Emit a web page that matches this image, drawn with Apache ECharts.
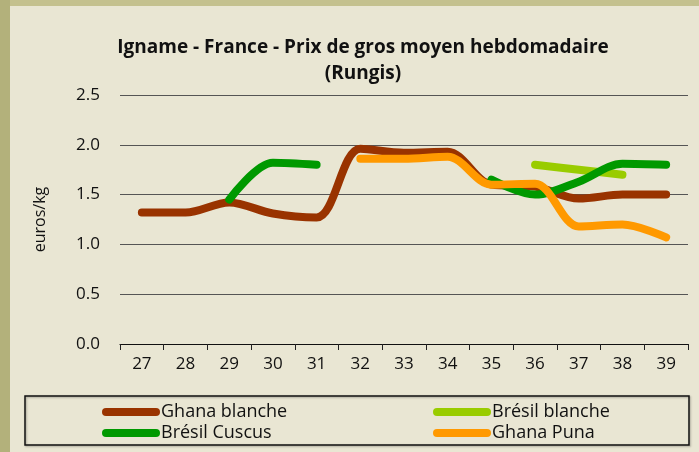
<!DOCTYPE html>
<html>
<head>
<meta charset="utf-8">
<script src="https://cdn.jsdelivr.net/npm/echarts@6/dist/echarts.min.js"></script>
<style>
  html, body { margin: 0; padding: 0; }
  #chart { width: 699px; height: 452px; }
</style>
</head>
<body>
<div id="chart"></div>
<script>
// Data
const weeks = ['27', '28', '29', '30', '31', '32', '33', '34', '35', '36', '37', '38', '39'];
const ghanaBlanche = [1.32, 1.32, 1.42, 1.31, 1.27, 1.96, 1.92, 1.93, 1.60, 1.58, 1.46, 1.50, 1.50];
const bresilBlanche = [null, null, null, null, null, null, null, null, null, 1.80, 1.75, 1.70, null];
const bresilCuscus = [null, null, 1.45, 1.82, 1.80, null, null, null, 1.65, 1.50, 1.63, 1.81, 1.80];
const ghanaPuna = [null, null, null, null, null, 1.86, 1.86, 1.88, 1.60, 1.61, 1.18, 1.20, 1.07];

// Colors
const cBrown = '#993300';
const cLime = '#99cc00';
const cGreen = '#009900';
const cOrange = '#ff9900';

const font = '"Open Sans", sans-serif';
const legendIcon = 'path://M4,0 H54 A4,4 0 0 1 54,8 H4 A4,4 0 0 1 4,0 Z';

function lineSeries(name, data, color) {
  return {
    name: name,
    type: 'line',
    data: data,
    smooth: 0.33,
    showSymbol: false,
    symbol: 'none',
    connectNulls: false,
    itemStyle: { color: color },
    lineStyle: { color: color, width: 8, cap: 'round', join: 'round' },
    emphasis: { disabled: true }
  };
}

const chart = echarts.init(document.getElementById('chart'));
chart.setOption({
  backgroundColor: '#c4c18e',
  animation: false,
  textStyle: { fontFamily: font },
  graphic: [
    { type: 'rect', z: -10, shape: { x: 0, y: 0, width: 10, height: 452 }, style: { fill: '#b3b17b' } },
    { type: 'rect', z: -10, shape: { x: 10, y: 6, width: 689, height: 446 }, style: { fill: '#e9e6d3' } },
    {
      type: 'rect', z: 5,
      shape: { x: 25, y: 396, width: 664, height: 49 },
      style: { fill: 'none', stroke: '#111', lineWidth: 1.5, shadowBlur: 2, shadowOffsetX: 1, shadowOffsetY: 1, shadowColor: 'rgba(0,0,0,0.3)' }
    }
  ],
  title: {
    text: 'Igname - France - Prix de gros moyen hebdomadaire\n(Rungis)',
    left: 358,
    textAlign: 'center',
    top: 30,
    textStyle: { fontSize: 19, fontWeight: 'bold', color: '#111', lineHeight: 26, fontFamily: font }
  },
  legend: [
    {
      left: 97, top: 398, orient: 'vertical', itemGap: 3,
      itemWidth: 58, itemHeight: 8, icon: legendIcon,
      textStyle: { fontSize: 18, color: '#111', fontFamily: font, padding: [0, 0, 0, -4] },
      data: ['Ghana blanche', 'Brésil Cuscus']
    },
    {
      left: 428, top: 398, orient: 'vertical', itemGap: 3,
      itemWidth: 58, itemHeight: 8, icon: legendIcon,
      textStyle: { fontSize: 18, color: '#111', fontFamily: font, padding: [0, 0, 0, -4] },
      data: ['Brésil blanche', 'Ghana Puna']
    }
  ],
  grid: { left: 120, right: 11, top: 95, bottom: 108 },
  xAxis: {
    type: 'category',
    data: weeks,
    axisLine: { lineStyle: { color: '#111', width: 1.2 } },
    axisTick: { show: true, length: 6, lineStyle: { color: '#222' } },
    axisLabel: { color: '#111', fontSize: 17, margin: 12 }
  },
  yAxis: {
    type: 'value',
    min: 0,
    max: 2.5,
    interval: 0.5,
    name: 'euros/kg',
    nameLocation: 'middle',
    nameRotate: 90,
    nameGap: 72,
    nameTextStyle: { color: '#111', fontSize: 16 },
    axisLine: { show: false },
    axisTick: { show: false },
    axisLabel: { color: '#111', fontSize: 17, margin: 20, formatter: v => v.toFixed(1) },
    splitLine: { lineStyle: { color: '#555', width: 1 } }
  },
  series: [
    lineSeries('Ghana blanche', ghanaBlanche, cBrown),
    lineSeries('Brésil blanche', bresilBlanche, cLime),
    lineSeries('Brésil Cuscus', bresilCuscus, cGreen),
    lineSeries('Ghana Puna', ghanaPuna, cOrange)
  ]
});
</script>
</body>
</html>
